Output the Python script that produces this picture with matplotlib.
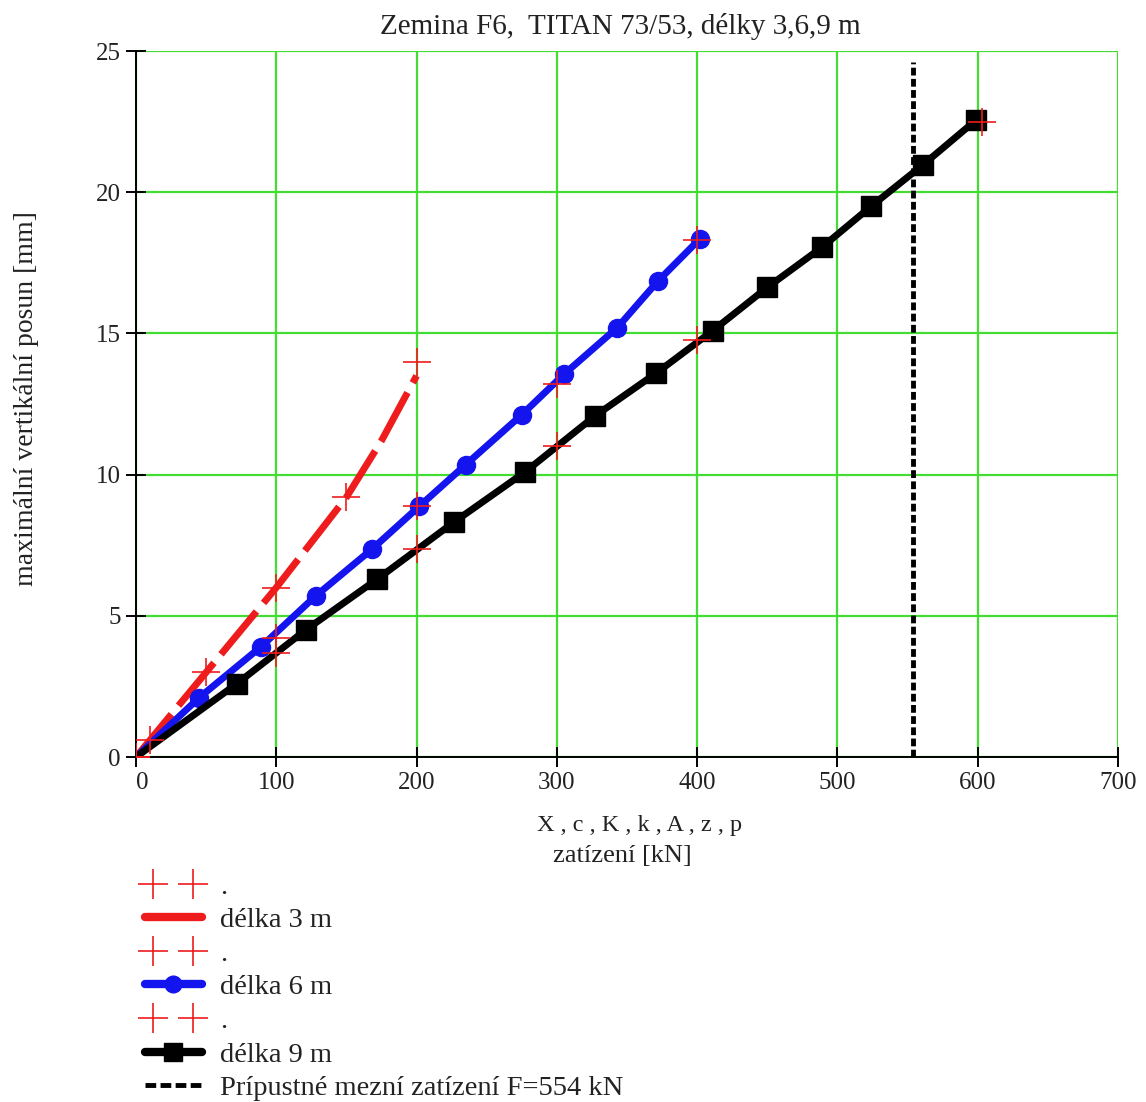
import matplotlib

matplotlib.use("Agg")
import matplotlib.pyplot as plt  # noqa: E402
from matplotlib.legend_handler import HandlerLine2D  # noqa: E402
from matplotlib.lines import Line2D  # noqa: E402

plt.rcParams.update({"font.family": ["Liberation Serif", "DejaVu Serif"]})

# measured points (red crosses) --------------------------------------------
X_load = [0, 10, 50, 100, 150, 200]            # delka 3 m
X_defl = [0.0, 0.6, 3.0, 6.0, 9.2, 14.0]
K_load = [0, 100, 200, 300, 400]               # delka 6 m
K_defl = [0.0, 4.2, 8.9, 13.2, 18.3]
A_load = [0, 100, 200, 300, 400, 603]          # delka 9 m
A_defl = [0.0, 3.7, 7.35, 11.0, 14.75, 22.5]

# computed curves ----------------------------------------------------------
c_load = [0, 50, 100, 150, 175, 200]
c_defl = [0.0, 3.0, 6.0, 9.2, 11.2, 13.5]
k_load = [0, 45, 89, 128, 168, 202, 235, 275, 305, 343, 372, 402]
k_defl = [0.0, 2.1, 3.9, 5.7, 7.35, 8.88, 10.35, 12.12, 13.55, 15.2, 16.85, 18.35]
z_load = [0, 72, 121, 172, 227, 277, 327, 371, 411, 450, 489, 524, 561, 599]
z_defl = [0.0, 2.6, 4.5, 6.3, 8.33, 10.08, 12.07, 13.6, 15.09, 16.63, 18.05, 19.5, 20.97, 22.56]

P_LIMIT = 554

X_TICKS = [0, 100, 200, 300, 400, 500, 600, 700]
Y_TICKS = [0, 5, 10, 15, 20, 25]

RED = "#ee1c1c"
BLUE = "#1414ee"
GREEN = "#44dd33"
TXT = "#222222"

fig = plt.figure(figsize=(11.46, 11.02), dpi=100)
ax = fig.add_axes([136 / 1146, 1 - 757 / 1102, (1118 - 136) / 1146, (757 - 51) / 1102])

ax.set_xlim(0, 700)
ax.set_ylim(0, 25)
ax.set_xticks(X_TICKS)
ax.set_yticks(Y_TICKS)
ax.grid(True, color=GREEN, lw=1.6)
ax.set_axisbelow(True)
for side in ("top", "right"):
    ax.spines[side].set_visible(False)
for side in ("left", "bottom"):
    ax.spines[side].set_linewidth(1.4)
ax.tick_params(direction="inout", length=14, width=1.4, labelsize=18,
               labelcolor=TXT, pad=4)
ax.get_xticklabels()[0].set_horizontalalignment("left")

# curves
ax.plot(c_load, c_defl, color=RED, lw=5, dashes=(8, 1.6), zorder=3)
ax.plot(k_load, k_defl, color=BLUE, lw=5, marker="o", ms=13,
        markevery=slice(1, None), zorder=3)
ax.plot(z_load, z_defl, color="black", lw=5, marker="s", ms=14,
        markevery=slice(1, None), zorder=3)
ax.axvline(P_LIMIT, color="black", lw=3.5, dashes=(1.6, 0.7), ymax=0.985, zorder=3)

# measured points
for xs, ys in ((X_load, X_defl), (K_load, K_defl), (A_load, A_defl)):
    ax.plot(xs, ys, ls="none", marker="+", ms=20, mew=1.2, color=RED, zorder=4)

fig.text(620 / 1146, 1 - 27 / 1102, "Zemina F6,  TITAN 73/53, délky 3,6,9 m",
         ha="center", va="center", fontsize=21, color=TXT)
fig.text(27 / 1146, 1 - 399 / 1102, "maximální vertikální posun [mm]",
         rotation=90, ha="center", va="center", fontsize=20, color=TXT)
fig.text(640 / 1146, 1 - 826 / 1102, "X , c , K , k , A , z , p",
         ha="center", va="center", fontsize=17.5, color=TXT)
fig.text(622 / 1146, 1 - 856 / 1102, "zatízení [kN]",
         ha="center", va="center", fontsize=19, color=TXT)

# legend (Mathcad style)
cross = Line2D([], [], ls="none", marker="+", ms=22, mew=1.2, color=RED)
h_c = Line2D([], [], color=RED, lw=6, solid_capstyle="round")
h_k = Line2D([], [], color=BLUE, lw=6, marker="o", ms=12, solid_capstyle="round")
h_z = Line2D([], [], color="black", lw=6, marker="s", ms=13, solid_capstyle="round")
h_p = Line2D([], [], color="black", lw=3.5, dashes=(2.2, 0.9))
handles = [cross, h_c, cross, h_k, cross, h_z, h_p]
labels = [".", "délka 3 m", ".", "délka 6 m", ".", "délka 9 m",
          "Prípustné mezní zatízení F=554 kN"]
fig.legend(handles, labels, loc="upper left",
           bbox_to_anchor=(119 / 1146, 1 - 848 / 1102), frameon=False,
           fontsize=20.5, handlelength=2.0, handletextpad=0.65, labelspacing=0.27,
           numpoints=1, labelcolor=TXT,
           handler_map={cross: HandlerLine2D(numpoints=2)})

fig.savefig("out.png", dpi=100)
